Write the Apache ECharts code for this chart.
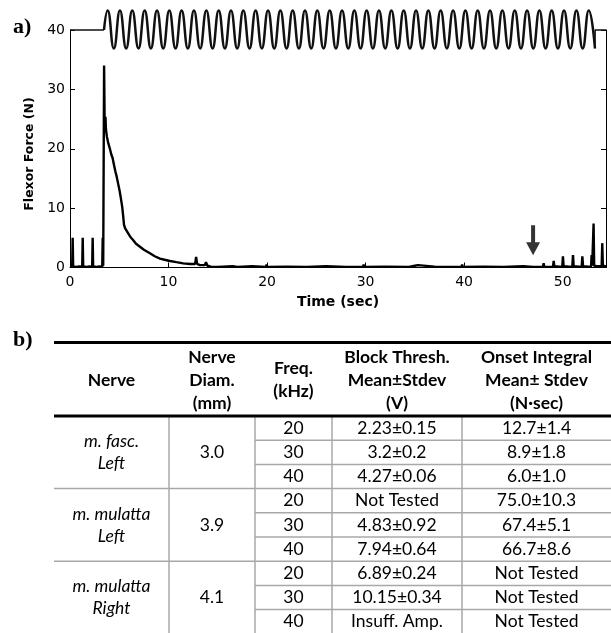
<!DOCTYPE html>
<html><head><meta charset="utf-8">
<script src="https://cdn.jsdelivr.net/npm/echarts@6/dist/echarts.min.js"></script>
<style>html,body{margin:0;padding:0;background:#fff}#c{width:611px;height:633px}</style>
</head><body><div id="c"></div>
<script>
// ---------- Panel a) data ----------
const xTicks = [0, 10, 20, 30, 40, 50];
const yTicks = [0, 10, 20, 30, 40];
const forceTrace = [
  [0,0.1],[0.22,0.1],[0.27,5.0],[0.32,0.2],[0.6,0.1],[1.0,0.2],[1.24,0.1],[1.29,5.0],[1.34,0.2],
  [1.7,0.1],[2.0,0.2],[2.25,0.1],[2.30,5.0],[2.35,0.2],[2.7,0.1],[3.0,0.2],[3.27,0.1],[3.32,5.0],
  [3.37,0.3],[3.42,0.2],[3.46,34.0],[3.52,24.0],[3.6,25.4],[3.65,23.2],[3.75,22.0],[3.89,20.9],
  [4.05,20.0],[4.2,19.0],[4.33,18.4],[4.45,17.4],[4.6,16.2],[4.74,15.3],[4.9,14.0],[5.05,12.8],
  [5.14,11.9],[5.3,10.2],[5.4,8.6],[5.48,7.2],[5.6,6.6],[5.75,6.3],[6.0,5.5],[6.2,5.0],[6.42,4.6],
  [6.7,4.0],[7.1,3.5],[7.5,3.0],[8.11,2.4],[8.6,1.9],[9.13,1.5],[9.6,1.3],[10.14,1.1],[10.8,0.9],
  [11.49,0.7],[12.2,0.6],[12.7,0.6],[12.8,1.8],[12.9,0.6],[13.18,0.4],[13.7,0.4],[13.8,0.9],
  [13.95,0.3],[14.3,0.15],[15,0.1],[16.5,0.2],[17,0.1],[18.5,0.2],[19.9,0.1],[19.95,0.5],[20.0,0.1],
  [22,0.15],[24,0.1],[26,0.2],[28,0.1],[29.75,0.1],[29.8,0.5],[29.85,0.1],[32,0.15],[34.4,0.1],
  [34.5,0.4],[34.6,0.1],[35.0,0.3],[35.3,0.4],[35.4,0.1],[37,0.15],[39.75,0.1],[39.8,0.5],[39.85,0.1],
  [42,0.15],[44,0.1],[46,0.2],[47.0,0.1],[47.05,0.4],[47.1,0.1],[48.0,0.1],[48.07,0.7],[48.14,0.1],
  [49.02,0.1],[49.09,1.1],[49.16,0.2],[49.96,0.1],[50.03,1.9],[50.1,0.2],[50.98,0.1],[51.05,2.1],
  [51.12,0.2],[51.93,0.1],[52.0,1.9],[52.07,0.2],[52.88,0.1],[52.94,2.1],[53.0,0.3],[53.08,0.2],
  [53.14,7.4],[53.2,0.3],[53.6,0.2],[53.96,0.2],[54.02,4.1],[54.08,0.3],[54.4,0.2]
];
// stimulus waveform (schematic): baseline level, peak/trough times and levels
const stimLevel = 40;
const stimOn = 3.45;
const stimEnd = 54.4;
const stimPeakValue = 43.3;
const stimTroughValue = 36.9;
const stimPeaks = [3.82,5.07,6.32,7.58,8.83,10.08,11.33,12.58,13.84,15.09,16.34,17.59,18.84,20.10,
  21.35,22.60,23.85,25.10,26.36,27.61,28.86,30.11,31.36,32.62,33.87,35.12,36.37,37.62,38.88,40.13,
  41.38,42.63,43.88,45.14,46.39,47.64,48.89,50.14,51.40,52.65];
const stimTroughs = [4.45,5.70,6.95,8.21,9.46,10.71,11.96,13.21,14.47,15.72,16.97,18.22,19.47,20.73,
  21.98,23.23,24.48,25.73,26.99,28.24,29.49,30.74,31.99,33.25,34.50,35.75,37.00,38.25,39.51,40.76,
  42.01,43.26,44.51,45.77,47.02,48.27,49.52,50.77,52.03,53.28];
const arrowPoint = [47.0, 4.6];

// ---------- Panel b) table data ----------
const headers = [["Nerve"],["Nerve","Diam.","(mm)"],["Freq.","(kHz)"],["Block Thresh.","Mean±Stdev","(V)"],["Onset Integral","Mean± Stdev","(N·sec)"]];
const nerves = [["m. fasc.","Left"],["m. mulatta","Left"],["m. mulatta","Right"]];
const diams = ["3.0","3.9","4.1"];
const freqs = ["20","30","40","20","30","40","20","30","40"];
const blockThresh = ["2.23±0.15","3.2±0.2","4.27±0.06","Not Tested","4.83±0.92","7.94±0.64","6.89±0.24","10.15±0.34","Insuff. Amp."];
const onsetIntegral = ["12.7±1.4","8.9±1.8","6.0±1.0","75.0±10.3","67.4±5.1","66.7±8.6","Not Tested","Not Tested","Not Tested"];

// ---------- build ----------
const wave = [[stimOn, stimLevel]];
for (let i = 0; i < stimPeaks.length; i++) {
  wave.push([stimPeaks[i], stimPeakValue]);
  wave.push([stimTroughs[i], stimTroughValue]);
}
const lastTrough = stimTroughs[stimTroughs.length - 1];
const flatLeft = [[0, stimLevel], [stimOn, stimLevel]];
const flatRight = [[lastTrough, stimTroughValue], [lastTrough + 0.02, stimLevel], [stimEnd, stimLevel]];

const G = [];
const colEdges = [54, 169, 255, 332, 462, 611];
const topLineY = 342.5, headBottom = 416, headMid = 380, headLH = 23, rowH = 24.2;
const fontFam = 'Lato, "Open Sans", sans-serif';
const FS = 17.5;
const gray = '#a8a8a8';
function line(x1,y1,x2,y2,w,c){G.push({type:'line',shape:{x1,y1,x2,y2},style:{stroke:c,lineWidth:w},silent:true});}
function text(x,y,t,font){G.push({type:'text',x,y,style:{text:t,font,fill:'#000',align:'center',verticalAlign:'middle'},silent:true});}
const cx = i => (colEdges[i] + colEdges[i+1]) / 2;

for (let i = 1; i < colEdges.length - 1; i++) line(colEdges[i], headBottom, colEdges[i], 633, 1.5, gray);
for (let r = 1; r < freqs.length; r++) {
  const y = headBottom + r * rowH;
  if (r % 3 === 0) line(colEdges[0], y, colEdges[5], y, 1.5, gray);
  else line(colEdges[2], y, colEdges[5], y, 1.5, gray);
}
line(colEdges[0], topLineY, colEdges[5], topLineY, 3, '#000');
line(colEdges[0], headBottom, colEdges[5], headBottom, 3, '#000');
headers.forEach((h, i) => h.forEach((t, k) => text(cx(i), headMid + (k - (h.length - 1) / 2) * headLH, t, 'bold ' + FS + 'px ' + fontFam)));
nerves.forEach((n, g) => {
  const mid = headBottom + (g * 3 + 1.5) * rowH;
  n.forEach((t, k) => text(cx(0), mid + (k - (n.length - 1) / 2) * 22, t, 'italic ' + FS + 'px ' + fontFam));
  text(cx(1), mid, diams[g], FS + 'px ' + fontFam);
});
freqs.forEach((f, r) => {
  const y = headBottom + (r + 0.5) * rowH;
  text(cx(2), y, f, FS + 'px ' + fontFam);
  text(cx(3), y, blockThresh[r], FS + 'px ' + fontFam);
  text(cx(4), y, onsetIntegral[r], FS + 'px ' + fontFam);
});
G.push({type:'text',x:13,y:27,style:{text:'a)',font:'bold 22px "Liberation Serif", serif',fill:'#000',verticalAlign:'middle'}});
G.push({type:'text',x:13,y:340,style:{text:'b)',font:'bold 22px "Liberation Serif", serif',fill:'#000',verticalAlign:'middle'}});
G.push({type:'text',x:30,y:154,rotation:Math.PI/2,style:{text:'Flexor Force (N)',font:'bold 12.5px "DejaVu Sans"',fill:'#000',align:'center',verticalAlign:'middle'}});

const axisFont = {fontFamily:'DejaVu Sans', fontSize:14, color:'#000'};
const chart = echarts.init(document.getElementById('c'), null, {renderer:'canvas'});
chart.setOption({
  animation: false,
  backgroundColor: '#fff',
  grid: {left: 70, right: 5, top: 30, bottom: 365.5, containLabel: false},
  xAxis: {
    type: 'value', min: 0, max: stimEnd, interval: 10,
    name: 'Time (sec)', nameLocation: 'middle', nameGap: 28,
    nameTextStyle: {fontFamily:'DejaVu Sans', fontWeight:'bold', fontSize:14, color:'#000'},
    axisLine: {show: true, onZero: false, lineStyle: {color:'#000', width:1}},
    axisTick: {show: true, inside: true, length: 5, lineStyle: {color:'#000'}},
    axisLabel: Object.assign({margin: 8, showMaxLabel: false, formatter: v => xTicks.includes(v) ? String(v) : ''}, axisFont),
    splitLine: {show: false}
  },
  yAxis: [{
    type: 'value', min: 0, max: 40, interval: 10, position: 'left',
    axisLine: {show: true, lineStyle: {color:'#000', width:1}},
    axisTick: {show: true, inside: true, length: 5, lineStyle: {color:'#000'}},
    axisLabel: Object.assign({margin: 5, formatter: v => yTicks.includes(v) ? String(v) : ''}, axisFont),
    splitLine: {show: false}
  }, {
    type: 'value', min: 0, max: 40, interval: 10, position: 'right',
    axisLine: {show: true, lineStyle: {color:'#000', width:1}},
    axisTick: {show: true, inside: true, length: 5, lineStyle: {color:'#000'}},
    axisLabel: {show: false}, splitLine: {show: false}
  }],
  series: [
    {type:'line', data: forceTrace, showSymbol:false, symbol:'none', lineStyle:{color:'#000', width:2.4}, clip:true, z:3},
    {type:'line', data: wave, smooth: 0.5, symbol:'none', lineStyle:{color:'#111', width:2.5}, clip:false, z:4},
    {type:'line', data: flatLeft, symbol:'none', lineStyle:{color:'#111', width:1.5}, clip:false, z:4},
    {type:'line', data: flatRight, symbol:'none', lineStyle:{color:'#111', width:1.5}, clip:false, z:4},
    {type:'scatter', data:[arrowPoint], symbol:'path://M5,0L9,0L9,17L14,17L7,30L0,17L5,17Z', symbolSize:[14,30], symbolKeepAspect:false, itemStyle:{color:'#000'}, z:5}
  ],
  graphic: G
});
</script></body></html>
